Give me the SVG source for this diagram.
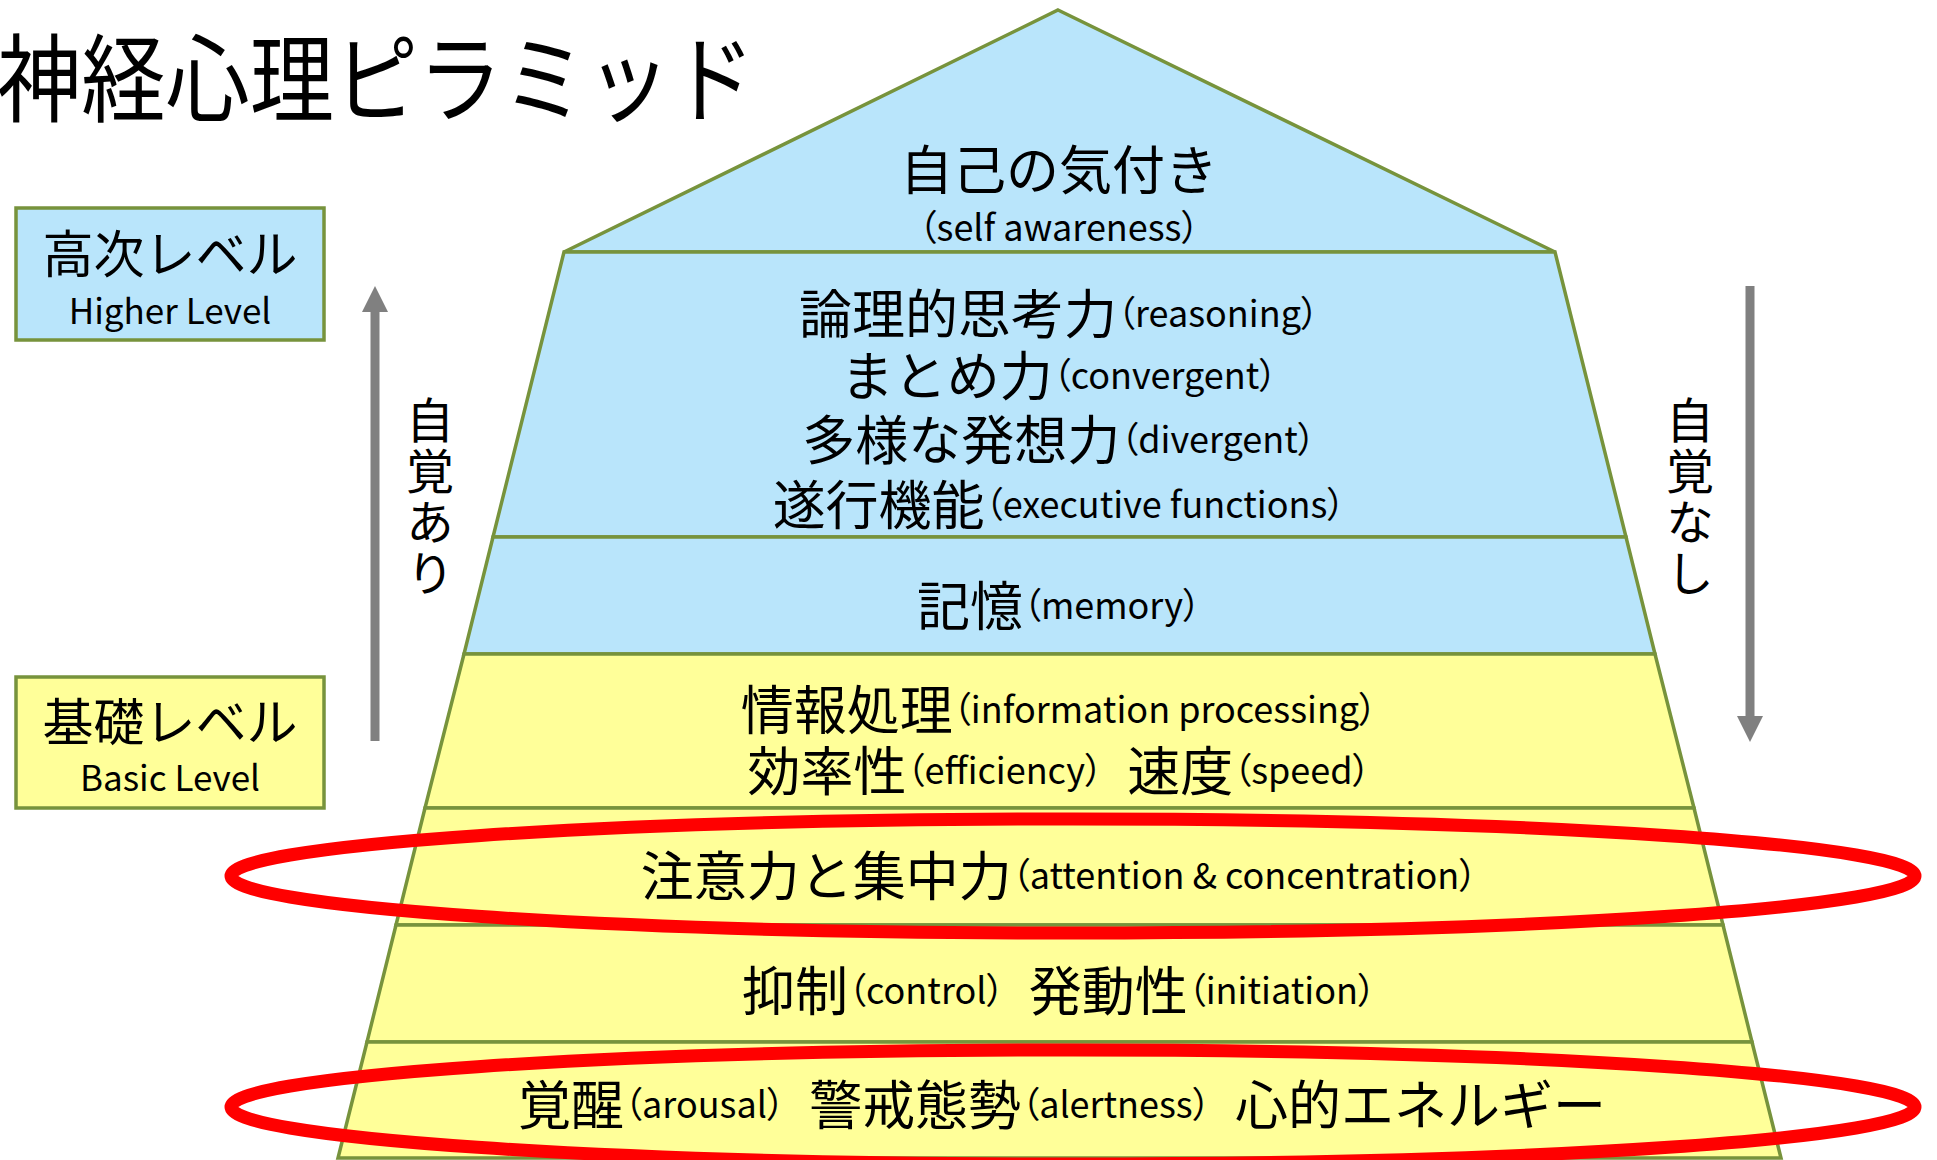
<svg xmlns="http://www.w3.org/2000/svg" width="1937" height="1160" viewBox="0 0 1937 1160">
<style>
text{font-family:"Noto Sans CJK JP","Noto Sans",sans-serif;fill:#000;dominant-baseline:central;text-anchor:middle}
.blue{fill:#B9E5FB;stroke:#77933C;stroke-width:3.5;stroke-linejoin:miter}
.yel{fill:#FFFF99;stroke:#77933C;stroke-width:3.5;stroke-linejoin:miter}
.j{font-size:53px}
.l{font-size:36px;font-feature-settings:"palt"}
.ring{fill:none;stroke:#FF0000;stroke-width:13}
.arr{fill:#808080}
.vert{font-size:48px;writing-mode:vertical-rl;text-anchor:start;letter-spacing:3px}
</style>
<rect width="1937" height="1160" fill="#fff"/>
<g id="title"><text x="-3" y="72" style="text-anchor:start;font-size:96px" textLength="758" lengthAdjust="spacingAndGlyphs">神経心理ピラミッド</text></g>

<g id="box-higher">
<rect x="16" y="208" width="308" height="132" class="blue"/>
<text x="170" y="251" style="font-size:51px">高次レベル</text>
<text x="170" y="308" style="font-size:35px">Higher Level</text>
</g>
<g id="box-basic">
<rect x="16" y="677" width="308" height="131" class="yel"/>
<text x="170" y="719" style="font-size:51px">基礎レベル</text>
<text x="170" y="775" style="font-size:35px">Basic Level</text>
</g>

<g id="band-self">
<polygon points="1058,10 1555,252 564,252" class="blue"/>
<text x="1059" y="167" class="j">自己の気付き</text>
<text x="1059" y="225" class="l">（self awareness）</text>
</g>
<g id="band-executive">
<polygon points="564,252 1555,252 1626,537 493,537" class="blue"/>
<text x="1059" y="311"><tspan class="j">論理的思考力</tspan><tspan class="l">（reasoning）</tspan></text>
<text x="1059" y="373"><tspan class="j">まとめ力</tspan><tspan class="l">（convergent）</tspan></text>
<text x="1059" y="437"><tspan class="j">多様な発想力</tspan><tspan class="l">（divergent）</tspan></text>
<text x="1059" y="502"><tspan class="j">遂行機能</tspan><tspan class="l">（executive functions）</tspan></text>
</g>
<g id="band-memory">
<polygon points="493,537 1626,537 1655,654 464,654" class="blue"/>
<text x="1059" y="603"><tspan class="j">記憶</tspan><tspan class="l">（memory）</tspan></text>
</g>
<g id="band-processing">
<polygon points="464,654 1655,654 1694,808 425,808" class="yel"/>
<text x="1059" y="707"><tspan class="j">情報処理</tspan><tspan class="l">（information processing）</tspan></text>
<text x="1059" y="768"><tspan class="j">効率性</tspan><tspan class="l">（efficiency）&#160;&#160;&#160;</tspan><tspan class="j">速度</tspan><tspan class="l">（speed）</tspan></text>
</g>
<g id="band-attention">
<polygon points="425,808 1694,808 1723,925 396,925" class="yel"/>
<text x="1059" y="873"><tspan class="j">注意力と集中力</tspan><tspan class="l">（attention &amp; concentration）</tspan></text>
</g>
<g id="band-control">
<polygon points="396,925 1723,925 1752,1042 367,1042" class="yel"/>
<text x="1059" y="988"><tspan class="j">抑制</tspan><tspan class="l">（control）&#160;&#160;&#160;</tspan><tspan class="j">発動性</tspan><tspan class="l">（initiation）</tspan></text>
</g>
<g id="band-arousal">
<polygon points="367,1042 1752,1042 1781,1158 338,1158" class="yel"/>
<text x="1062" y="1102"><tspan class="j">覚醒</tspan><tspan class="l">（arousal）&#160;&#160;&#160;</tspan><tspan class="j">警戒態勢</tspan><tspan class="l">（alertness）&#160;&#160;&#160;</tspan><tspan class="j">心的エネルギー</tspan></text>
</g>

<g id="highlights">
<ellipse cx="1073" cy="876" rx="842" ry="57" class="ring"/>
<ellipse cx="1073" cy="1107" rx="842" ry="57" class="ring"/>
</g>

<g id="connectors">
<g id="arrow-up">
<rect x="370.5" y="310" width="9" height="431" class="arr"/>
<polygon points="375,286 388,312 362,312" class="arr"/>
</g>
<g id="arrow-down">
<rect x="1745.5" y="286" width="9" height="431" class="arr"/>
<polygon points="1750,742 1763,716 1737,716" class="arr"/>
</g>
</g>

<g id="label-aware">
<text x="430" y="396" class="vert">自覚あり</text>
</g>
<g id="label-unaware">
<text x="1690" y="396" class="vert">自覚なし</text>
</g>
</svg>
